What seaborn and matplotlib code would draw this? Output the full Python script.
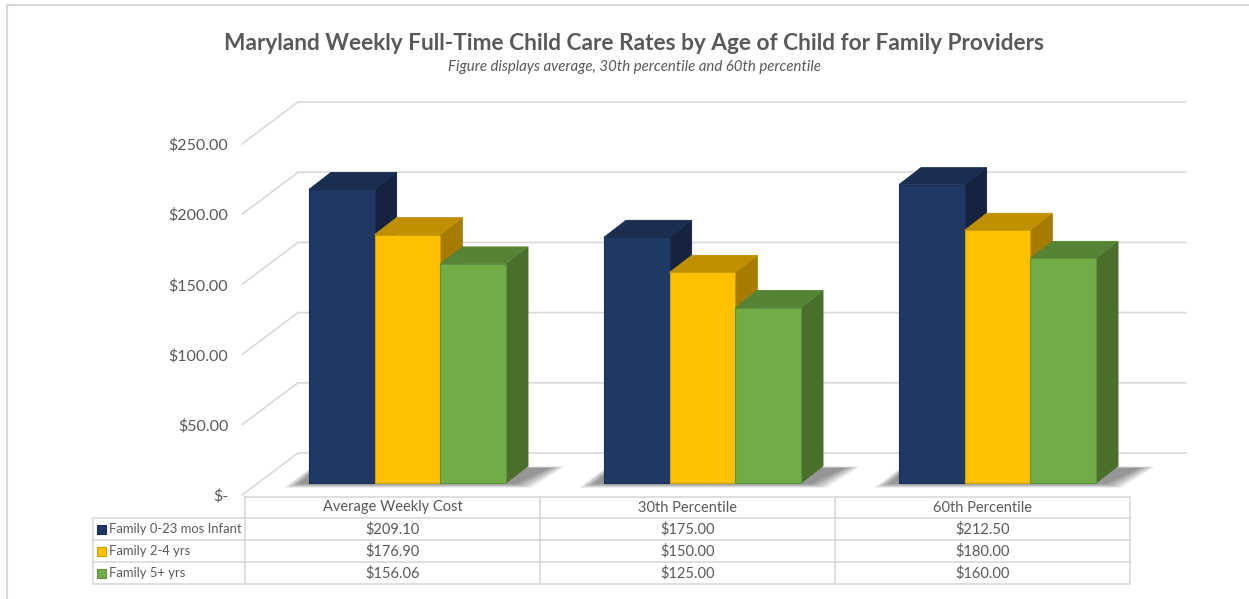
import numpy as np
import pandas as pd
import matplotlib
matplotlib.use("Agg")
import matplotlib.pyplot as plt
import seaborn as sns
from matplotlib.patches import Polygon, Rectangle
from matplotlib.lines import Line2D
from matplotlib.transforms import IdentityTransform

# ---- data ----
categories = ["Average Weekly Cost", "30th Percentile", "60th Percentile"]
series = ["Family 0-23 mos Infant", "Family 2-4 yrs", "Family 5+ yrs"]
infant = [209.10, 175.00, 212.50]
toddler = [176.90, 150.00, 180.00]
school = [156.06, 125.00, 160.00]
yticks = [0, 50, 100, 150, 200, 250]
title = "Maryland Weekly Full-Time Child Care Rates by Age of Child for Family Providers"
subtitle = "Figure displays average, 30th percentile and 60th percentile"

front_colors = ["#203864", "#FFC000", "#70AD47"]
top_colors = ["#1B2D50", "#C09000", "#568336"]
side_colors = ["#15233F", "#A67C00", "#4A6F2D"]
edge_colors = ["#1B2D50", "#C9A000", "#5E9140"]

values = [infant, toddler, school]
df = pd.DataFrame({
    "category": np.repeat([categories], 3, axis=0).ravel(),
    "series": np.repeat(series, 3),
    "value": np.ravel(values),
})

sns.set_theme(style="white")
plt.rcParams["font.family"] = ["Lato", "DejaVu Sans"]
TXT = "#595959"
GRID = "#D9D9D9"

W, H = 1249, 599
DPI = 100
fig = plt.figure(figsize=(W / DPI, H / DPI), dpi=DPI)

def fy(px_from_top):
    return (H - px_from_top) / H

ax_left, ax_right = 245, 1130
ax_bottom, ax_top = 495, 144
ax = fig.add_axes([ax_left / W, fy(ax_bottom), (ax_right - ax_left) / W, (ax_bottom - ax_top) / H])

sns.barplot(data=df, x="category", y="value", hue="series", order=categories,
            hue_order=series, palette=front_colors, saturation=1, width=0.668,
            gap=0, legend=False, ax=ax, errorbar=None)
ax.set_xlim(-0.5, 2.5)
ax.set_ylim(0, 250)
ax.set_xlabel("")
ax.set_ylabel("")
ax.set_xticks([])
ax.set_yticks(yticks)
ax.set_yticklabels(["$-" if v == 0 else f"${v:,.2f}" for v in yticks])
ax.tick_params(axis="y", length=0, pad=12, labelsize=11.5, labelcolor=TXT)
for s in ax.spines.values():
    s.set_visible(False)
ax.patch.set_alpha(0)

fig.canvas.draw()
to_disp = ax.transData.transform

BX, BY = 15, 12      # bar front offset from label plane
DX, DY = 22, 17      # bar depth
WX, WY = 56, 42      # back wall offset

for v in yticks:
    p0 = to_disp((-0.5, v))
    p1 = to_disp((2.5, v))
    xs = [p0[0] - 3, p0[0] - 3 + WX, p1[0] + WX]
    ys = [p0[1], p0[1] + WY, p1[1] + WY]
    fig.add_artist(Line2D(xs, ys, transform=IdentityTransform(), color=GRID, lw=1.2, zorder=1))

for hi, cont in enumerate(ax.containers):
    for bar in cont:
        x0 = bar.get_x()
        x1 = x0 + bar.get_width()
        h = bar.get_height()
        (a0, b0) = to_disp((x0, 0))
        (a1, b1) = to_disp((x1, h))
        a0 += BX; a1 += BX; b0 += BY; b1 += BY
        z = 3 + hi * 0.3
        if hi == 0:
            gw = 3 * (a1 - a0)
            aR = a0 + gw
            for k in range(7):
                e = k * 2.5
                sh = Polygon([(a0 - 10 - e, b0 - 1 - e * 0.25), (aR + 10 + e, b0 - 1 - e * 0.25),
                              (aR + DX + 22 + e, b0 + DY - 2 + e * 0.1),
                              (a0 + 8 - e * 0.3, b0 + DY - 2 + e * 0.1)],
                             closed=True, transform=IdentityTransform(),
                             facecolor="#000000", alpha=0.07, lw=0, zorder=2)
                fig.add_artist(sh)
        front = Polygon([(a0, b0), (a1, b0), (a1, b1), (a0, b1)], closed=True,
                        transform=IdentityTransform(), facecolor=front_colors[hi],
                        edgecolor=edge_colors[hi], lw=0.8, zorder=z + 0.2)
        top = Polygon([(a0, b1), (a1, b1), (a1 + DX, b1 + DY), (a0 + DX, b1 + DY)], closed=True,
                      transform=IdentityTransform(), facecolor=top_colors[hi],
                      edgecolor=top_colors[hi], lw=0.6, zorder=z + 0.1)
        side = Polygon([(a1, b0), (a1 + DX, b0 + DY), (a1 + DX, b1 + DY), (a1, b1)], closed=True,
                       transform=IdentityTransform(), facecolor=side_colors[hi],
                       edgecolor=side_colors[hi], lw=0.6, zorder=z)
        for p in (side, top, front):
            fig.add_artist(p)
        bar.set_visible(False)

# data table
row_lines = [497, 518, 540, 562, 584]
lab_left = 93
col_edges = [to_disp((-0.5 + i, 0))[0] for i in range(4)]
tline = dict(transform=IdentityTransform(), color=GRID, lw=1.2, zorder=5)
fig.add_artist(Line2D([col_edges[0], col_edges[-1]], [H - row_lines[0]] * 2, **tline))
for y in row_lines[1:]:
    fig.add_artist(Line2D([lab_left, col_edges[-1]], [H - y] * 2, **tline))
for xe in col_edges:
    fig.add_artist(Line2D([xe, xe], [H - row_lines[0], H - row_lines[-1]], **tline))
fig.add_artist(Line2D([lab_left, lab_left], [H - row_lines[1], H - row_lines[-1]], **tline))

for ci, cat in enumerate(categories):
    xc = (col_edges[ci] + col_edges[ci + 1]) / 2
    yc = (row_lines[0] + row_lines[1]) / 2
    fig.text(xc / W, fy(yc), cat, ha="center", va="center", fontsize=10.5, color=TXT)
    for si in range(3):
        yc = (row_lines[si + 1] + row_lines[si + 2]) / 2
        fig.text(xc / W, fy(yc), f"${values[si][ci]:,.2f}", ha="center", va="center",
                 fontsize=10.5, color=TXT)

for si, name in enumerate(series):
    yc = (row_lines[si + 1] + row_lines[si + 2]) / 2
    fig.add_artist(Rectangle((97, H - yc - 4.5), 9, 9, transform=IdentityTransform(),
                             facecolor=front_colors[si], edgecolor=edge_colors[si], lw=0.8, zorder=6))
    fig.text(109 / W, fy(yc), name, ha="left", va="center", fontsize=9.4, color=TXT)

fig.text(634 / W, fy(44), title, ha="center", va="center", fontsize=16.3, fontweight="bold", color=TXT)
fig.text(634 / W, fy(67), subtitle, ha="center", va="center", fontsize=10.8, style="italic", color=TXT)

fig.add_artist(Line2D([6.5, W], [H - 4.5, H - 4.5], transform=IdentityTransform(), color=GRID, lw=1.5))
fig.add_artist(Line2D([6.5, 6.5], [H - 4.5, 0], transform=IdentityTransform(), color=GRID, lw=1.5))

fig.savefig("out.png", dpi=DPI)
